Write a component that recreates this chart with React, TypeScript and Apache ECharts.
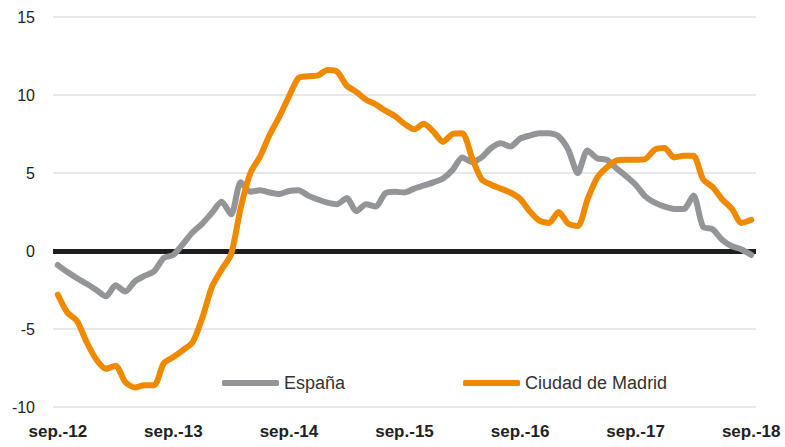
import React, { useEffect, useRef } from "react";
import * as echarts from "echarts";

const monthNames = ["sep.", "oct.", "nov.", "dic.", "ene.", "feb.", "mar.", "abr.", "may.", "jun.", "jul.", "ago."];
const startYear = 12;
const monthCount = 73;
const categories: string[] = Array.from({ length: monthCount }, (_, i) => {
  const m = i % 12;
  const y = startYear + Math.floor((i + 8) / 12);
  return `${monthNames[m]}-${y}`;
});

const espana = [
  -0.9, -1.35, -1.75, -2.1, -2.5, -2.9, -2.2, -2.6, -1.95, -1.6, -1.3, -0.45,
  -0.25, 0.45, 1.2, 1.75, 2.45, 3.15, 2.35, 4.4, 3.8, 3.9, 3.75, 3.65,
  3.85, 3.9, 3.55, 3.3, 3.1, 3.0, 3.4, 2.55, 3.0, 2.85, 3.7, 3.8,
  3.75, 4.0, 4.2, 4.4, 4.65, 5.2, 6.0, 5.7, 6.0, 6.6, 6.9, 6.7,
  7.2, 7.4, 7.55, 7.55, 7.35, 6.5, 5.0, 6.45, 5.95, 5.85, 5.3, 4.8,
  4.25, 3.5, 3.1, 2.85, 2.7, 2.7, 3.55, 1.55, 1.4, 0.7, 0.3, 0.1,
  -0.25,
];

const madrid = [
  -2.8, -3.95, -4.5, -5.85, -6.95, -7.55, -7.35, -8.4, -8.75, -8.6, -8.6, -7.2,
  -6.8, -6.35, -5.85, -4.3, -2.3, -1.2, -0.2, 2.8, 5.0, 6.05, 7.45, 8.6,
  9.9, 11.1, 11.2, 11.25, 11.6, 11.5, 10.6, 10.2, 9.7, 9.4, 9.0, 8.65,
  8.15, 7.8, 8.15, 7.65, 7.0, 7.5, 7.55, 6.0, 4.6, 4.25, 4.0, 3.75,
  3.35, 2.55, 1.95, 1.8, 2.5, 1.75, 1.6, 3.3, 4.7, 5.35, 5.8, 5.85,
  5.85, 5.9, 6.5, 6.6, 6.0, 6.1, 6.1, 4.6, 4.1, 3.3, 2.7, 1.8,
  2.0,
];

const seriesNames = ["España", "Ciudad de Madrid"];
const seriesColors = ["#939598", "#EF8A00"];
const yTicks = { min: -10, max: 15, interval: 5 };

export default function App() {
  const ref = useRef<HTMLDivElement>(null);
  useEffect(() => {
    if (!ref.current) return;
    const chart = echarts.init(ref.current, undefined, { renderer: "svg" });
    const font = "'Liberation Sans', Arial, sans-serif";
    chart.setOption({
      animation: false,
      grid: { left: 53, right: 29, top: 17, bottom: 40, containLabel: false },
      legend: {
        left: 217,
        top: 369,
        itemWidth: 57,
        itemHeight: 6,
        itemGap: 118,
        icon: "roundRect",
        textStyle: { fontFamily: font, fontSize: 18, color: "#333333" },
        data: seriesNames,
      },
      xAxis: {
        type: "category",
        data: categories,
        boundaryGap: true,
        axisLine: { show: false },
        axisTick: { show: false },
        axisLabel: {
          interval: 11,
          margin: 16,
          fontFamily: font,
          fontSize: 17,
          fontWeight: "bold",
          color: "#222222",
        },
        splitLine: { show: false },
      },
      yAxis: {
        type: "value",
        min: yTicks.min,
        max: yTicks.max,
        interval: yTicks.interval,
        axisLine: { show: false },
        axisTick: { show: false },
        axisLabel: { margin: 18, fontFamily: font, fontSize: 16, color: "#222222" },
        splitLine: { lineStyle: { color: "#e0e0e0", width: 1.5 } },
      },
      series: [
        {
          name: seriesNames[0],
          type: "line",
          data: espana,
          smooth: 0.25,
          showSymbol: false,
          symbol: "none",
          color: seriesColors[0],
          lineStyle: { width: 6, color: seriesColors[0], cap: "round", join: "round" },
          markLine: {
            silent: true,
            symbol: ["none", "none"],
            label: { show: false },
            lineStyle: { color: "#1e1e1e", width: 5, type: "solid" },
            data: [{ yAxis: 0 }],
            z: 1,
          },
          z: 2,
        },
        {
          name: seriesNames[1],
          type: "line",
          data: madrid,
          smooth: 0.25,
          showSymbol: false,
          symbol: "none",
          color: seriesColors[1],
          lineStyle: { width: 6, color: seriesColors[1], cap: "round", join: "round" },
          z: 3,
        },
      ],
    });
    return () => chart.dispose();
  }, []);
  return <div ref={ref} style={{ width: 785, height: 447, position: "absolute", left: 0, top: 0 }} />;
}
